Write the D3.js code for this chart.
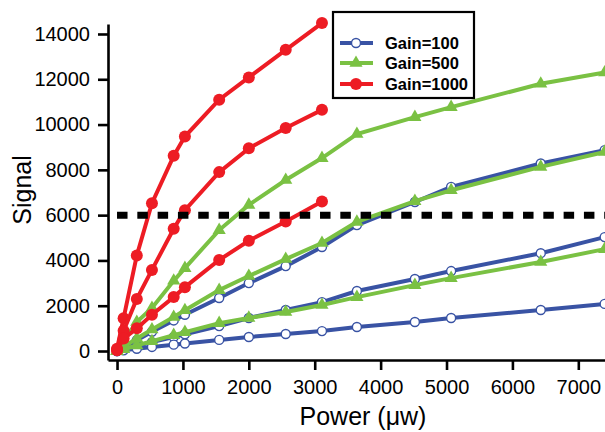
<!DOCTYPE html>
<html>
<head>
<meta charset="utf-8">
<script src="https://cdn.jsdelivr.net/npm/d3@7"></script>
<style>
  body { margin: 0; background: #fff; }
  text { font-family: "Liberation Sans", Arial, Helvetica, sans-serif; }
</style>
</head>
<body>
<div id="chart"></div>
<script>
// power values (uW) at which every series was measured
const power = [0, 100, 300, 530, 860, 1030, 1550, 2000, 2560, 3110, 3640, 4520, 5070, 6430, 7400];

// gain = 100 (blue, open circles)
const gain100 = [
  [0, 150, 480, 850, 1350, 1600, 2340, 3000, 3750, 4590, 5560, 6580, 7250, 8280, 8870],
  [0, 70, 220, 390, 620, 740, 1100, 1460, 1810, 2160, 2650, 3180, 3530, 4320, 5030],
  [0, 30, 100, 180, 280, 330, 490, 620, 750, 880, 1060, 1280, 1460, 1810, 2080]
];
// gain = 500 (green, triangles)
const gain500 = [
  [0, 450, 1280, 1900, 3100, 3660, 5340, 6450, 7550, 8520, 9580, 10330, 10770, 11800, 12300],
  [0, 180, 550, 950, 1500, 1800, 2690, 3310, 4060, 4770, 5700, 6620, 7100, 8130, 8790],
  [0, 80, 250, 430, 700, 830, 1230, 1460, 1720, 2030, 2380, 2910, 3220, 3930, 4500]
];
// gain = 1000 (red, filled circles), only measured up to 3110 uW
const gain1000 = [
  [100, 1450, 4220, 6530, 8620, 9470, 11100, 12080, 13300, 14480],
  [50, 900, 2300, 3580, 5400, 6220, 7900, 8950, 9850, 10650],
  [30, 550, 1000, 1600, 2380, 2820, 4020, 4870, 5720, 6600]
];

const threshold = 6000;
const xTicks = [0, 1000, 2000, 3000, 4000, 5000, 6000, 7000];
const yTicks = [0, 2000, 4000, 6000, 8000, 10000, 12000, 14000];
const legendNames = ['Gain=100', 'Gain=500', 'Gain=1000'];

const blue = '#3953a4', green = '#7ac143', red = '#ed1c24';

function drawChart() {
  const w = 605, h = 432;
  const svg = d3.select('#chart').append('svg').attr('width', w).attr('height', h);

  const x = d3.scaleLinear().domain([-137, 7405]).range([108, 605]);
  const y = d3.scaleLinear().domain([-397, 14441]).range([360, 24]);

  const line = d3.line().x((d) => x(d[0])).y((d) => y(d[1]));
  const pairs = (vals) => vals.map((v, i) => [power[i], v]);

  const plot = svg.append('g');

  // blue series
  gain100.forEach((s) => {
    const pts = pairs(s);
    plot.append('path').attr('d', line(pts)).attr('fill', 'none')
      .attr('stroke', blue).attr('stroke-width', 4);
    plot.selectAll(null).data(pts).enter().append('circle')
      .attr('cx', (d) => x(d[0])).attr('cy', (d) => y(d[1])).attr('r', 4.5)
      .attr('fill', 'white').attr('stroke', blue).attr('stroke-width', 1.4);
  });

  // green series
  const tri = d3.symbol().type(d3.symbolTriangle).size(75);
  gain500.forEach((s) => {
    const pts = pairs(s);
    plot.append('path').attr('d', line(pts)).attr('fill', 'none')
      .attr('stroke', green).attr('stroke-width', 4);
    plot.selectAll(null).data(pts).enter().append('path')
      .attr('d', tri)
      .attr('transform', (d) => `translate(${x(d[0])},${y(d[1])})`)
      .attr('fill', green);
  });

  // red series
  gain1000.forEach((s) => {
    const pts = pairs(s);
    plot.append('path').attr('d', line(pts)).attr('fill', 'none')
      .attr('stroke', red).attr('stroke-width', 4);
    plot.selectAll(null).data(pts).enter().append('circle')
      .attr('cx', (d) => x(d[0])).attr('cy', (d) => y(d[1])).attr('r', 6)
      .attr('fill', red);
  });

  // threshold dashed line
  svg.append('line')
    .attr('x1', x(0)).attr('x2', 605)
    .attr('y1', y(threshold)).attr('y2', y(threshold))
    .attr('stroke', 'black').attr('stroke-width', 7)
    .attr('stroke-dasharray', '10.5,9.8');

  // axes
  const fmt = d3.format('d');
  const yAxis = svg.append('g').attr('transform', 'translate(108,0)')
    .call(d3.axisLeft(y).tickValues(yTicks).tickFormat(fmt).tickSize(10).tickPadding(8).tickSizeOuter(0));
  const xAxis = svg.append('g').attr('transform', 'translate(0,360)')
    .call(d3.axisBottom(x).tickValues(xTicks).tickFormat(fmt).tickSize(10).tickPadding(10).tickSizeOuter(0));
  [xAxis, yAxis].forEach((a) => {
    a.select('.domain').attr('stroke', 'black').attr('stroke-width', 2.6);
    a.selectAll('.tick line').attr('stroke', 'black').attr('stroke-width', 2.6);
    a.selectAll('.tick text').attr('font-size', 20).attr('fill', 'black')
      .attr('font-family', '"Liberation Sans", Arial, sans-serif');
  });

  svg.append('text').attr('x', 363).attr('y', 425).attr('text-anchor', 'middle')
    .attr('font-size', 25).text('Power (\u03bcw)');
  svg.append('text').attr('transform', 'translate(31,190) rotate(-90)')
    .attr('text-anchor', 'middle').attr('font-size', 25).text('Signal');

  // legend
  const lg = svg.append('g');
  lg.append('rect').attr('x', 333).attr('y', 12).attr('width', 141).attr('height', 86)
    .attr('fill', 'white').attr('stroke', 'black').attr('stroke-width', 2.2);
  const cols = [blue, green, red];
  const rows = [43, 63, 84];
  legendNames.forEach((name, i) => {
    lg.append('line').attr('x1', 340).attr('x2', 373).attr('y1', rows[i]).attr('y2', rows[i])
      .attr('stroke', cols[i]).attr('stroke-width', 4);
    if (i === 0) {
      lg.append('circle').attr('cx', 356).attr('cy', rows[i]).attr('r', 4.5)
        .attr('fill', 'white').attr('stroke', blue).attr('stroke-width', 1.4);
    } else if (i === 1) {
      lg.append('path').attr('d', tri).attr('transform', `translate(356,${rows[i]})`).attr('fill', green);
    } else {
      lg.append('circle').attr('cx', 356).attr('cy', rows[i]).attr('r', 6).attr('fill', red);
    }
    lg.append('text').attr('x', 385).attr('y', rows[i] + 6).attr('font-size', 16.5)
      .attr('font-weight', 'bold').text(name);
  });
}

window.onload = function () {
  drawChart();
};
</script>
</body>
</html>
